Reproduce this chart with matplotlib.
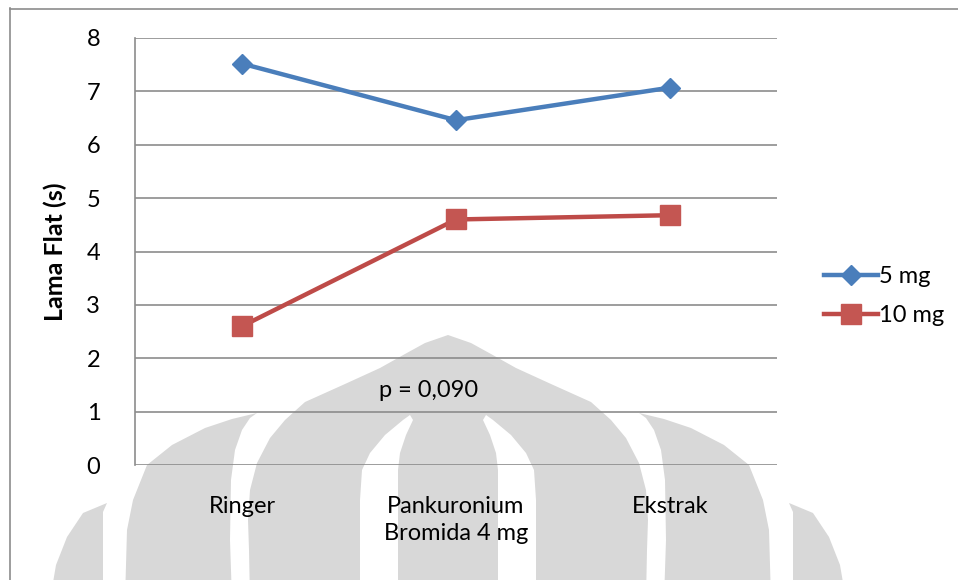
import matplotlib
matplotlib.use("Agg")
import matplotlib.pyplot as plt
from matplotlib.patches import Polygon
from matplotlib.lines import Line2D

plt.rcParams['font.family'] = ['Lato', 'DejaVu Sans']

# data
groups = ['Ringer', 'Pankuronium\nBromida 4 mg', 'Ekstrak']
dose_5mg = [7.52, 6.46, 7.07]
dose_10mg = [2.60, 4.60, 4.68]
p_label = 'p = 0,090'

W, H = 958, 580
fig = plt.figure(figsize=(W / 100, H / 100), dpi=100)
fig.patch.set_facecolor('white')


def px(pts):
    # pixel (x, y-from-top) -> figure fraction
    return [(x / W, 1 - y / H) for x, y in pts]


def mirror(pts, cx=448):
    return [(2 * cx - x, y) for x, y in pts]


def outline(left):
    # closed symmetric outline from its left half (top -> bottom)
    return left + mirror(left)[::-1]


wm = '#d8d8d8'
flame_left = [(448, 335), (425, 343), (405, 354), (380, 368), (345, 384),
              (305, 402), (285, 420), (270, 438), (257, 463), (250, 490),
              (248, 520), (249, 550), (250, 600)]
lobe = [(257, 413), (232, 419), (205, 428), (172, 445), (147, 465),
        (133, 500), (127, 530), (125, 600), (232, 600), (230, 540),
        (231, 480), (235, 450), (242, 430), (250, 418)]
far_lobe = [(107, 503), (83, 513), (67, 537), (56, 565), (50, 600),
            (103, 600), (103, 512)]
strip = [(410, 415), (403, 420), (385, 435), (370, 453), (362, 470),
         (360, 500), (360, 600), (398, 600), (398, 470), (400, 453),
         (406, 435), (413, 420)]

shapes = [(outline(flame_left), wm), (lobe, wm), (mirror(lobe), wm),
          (far_lobe, wm), (mirror(far_lobe), wm),
          (strip, 'white'), (mirror(strip), 'white')]
for pts, col in shapes:
    fig.add_artist(Polygon(px(pts), closed=True, facecolor=col,
                           edgecolor='none', transform=fig.transFigure,
                           zorder=-5))

# chart frame
frame_kw = dict(color='#8c8c8c', lw=1.2, transform=fig.transFigure, zorder=-4)
fig.add_artist(Line2D([9.5 / W, 9.5 / W], [1 - 8 / H, 0], **frame_kw))
fig.add_artist(Line2D([9.5 / W, 1], [1 - 8.5 / H, 1 - 8.5 / H], **frame_kw))

ax = fig.add_axes([135 / W, 1 - 465 / H, 642 / W, 427 / H])
ax.patch.set_alpha(0)

x = range(len(groups))
ax.plot(x, dose_5mg, color='#4a7ebb', lw=3.2, marker='D', ms=10,
        label='5 mg', zorder=3)
ax.plot(x, dose_10mg, color='#be4b48', lw=3.2, marker='s', ms=14,
        mfc='#c45652', mec='#c45652', label='10 mg', zorder=3)

ax.set_xlim(-0.5, len(groups) - 0.5)
ax.set_ylim(0, 8)
ax.set_yticks(range(0, 9))
ax.set_xticks(list(x))
ax.set_xticklabels(groups, linespacing=1.4)
ax.grid(axis='y', color='#8c8c8c', lw=1.2, zorder=1)
ax.set_axisbelow(True)

for side in ['top', 'right', 'bottom']:
    ax.spines[side].set_visible(False)
ax.spines['left'].set_color('#8c8c8c')
ax.spines['left'].set_linewidth(1.2)
ax.tick_params(axis='both', length=0, labelsize=17, colors='black')
ax.tick_params(axis='y', pad=25)
ax.tick_params(axis='x', pad=22)

ax.set_ylabel('Lama Flat (s)', fontsize=18, fontweight='bold')
ax.yaxis.set_label_coords(-68 / 642, 0.5)

ax.text(0.87, 1.4, p_label, fontsize=17, ha='center', va='center')

ax.legend(loc='center left', bbox_to_anchor=(812 / W, 1 - 296 / H),
          bbox_transform=fig.transFigure, frameon=False, fontsize=17,
          handlelength=2.3, handletextpad=0.05, labelspacing=0.75,
          borderpad=0)

fig.savefig('out.png', dpi=100)
